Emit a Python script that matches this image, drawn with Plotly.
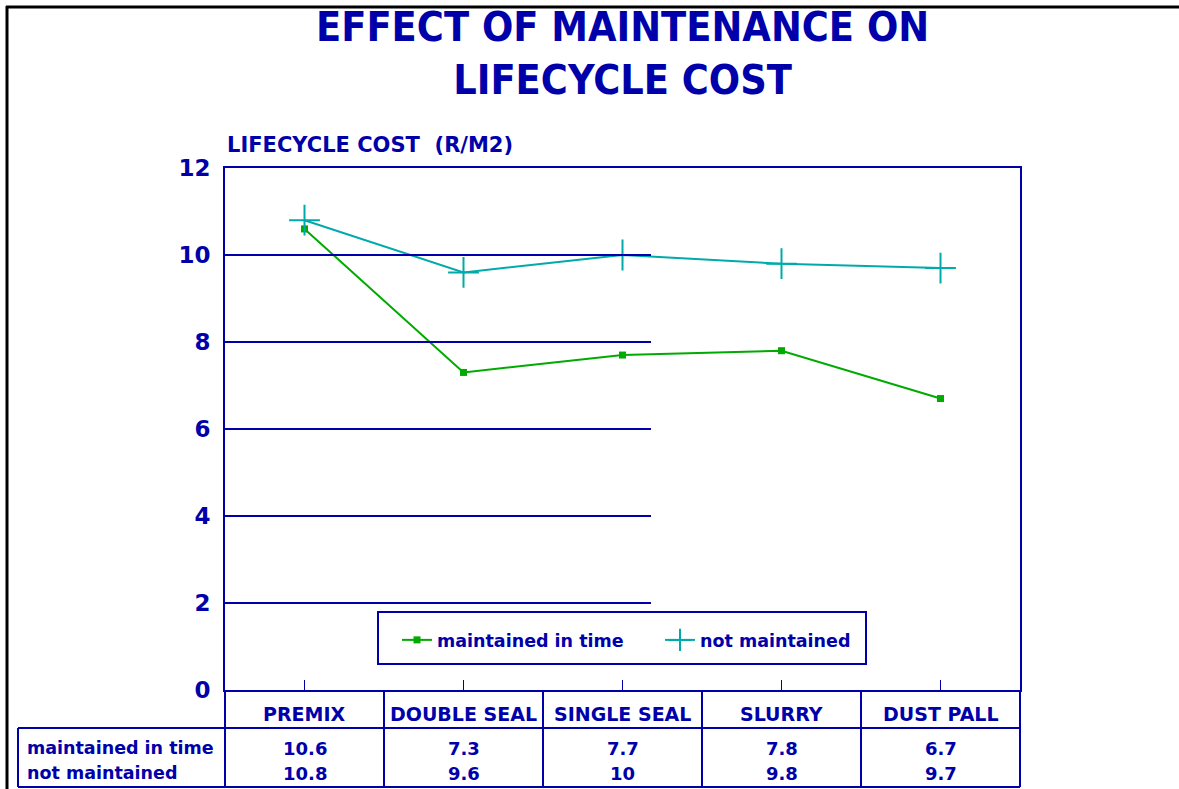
import plotly.graph_objects as go

# ---------------- data ----------------
categories = ["PREMIX", "DOUBLE SEAL", "SINGLE SEAL", "SLURRY", "DUST PALL"]
maintained = [10.6, 7.3, 7.7, 7.8, 6.7]
not_maintained = [10.8, 9.6, 10.0, 9.8, 9.7]
series_names = ["maintained in time", "not maintained"]
y_ticks = [0, 2, 4, 6, 8, 10, 12]
grid_values = [2, 4, 6, 8, 10]
title_text = "EFFECT OF MAINTENANCE ON<br>LIFECYCLE COST"
y_title = "LIFECYCLE COST&nbsp; (R/M2)"

# ---------------- styling / layout ----------------
W, H = 1179, 789
L, R, T, B = 225, 1020, 168, 690          # plot area in pixels
BLUE = "#0000AA"
GREEN = "#00AA00"
TEAL = "#00AAAA"
FONT = "DejaVu Sans"
TITLE_FONT = "DejaVu Sans Condensed, Liberation Sans Narrow, DejaVu Sans"


def px(xp):
    return (xp - L) / (R - L)


def py(yp):
    return (B - yp) / (B - T)


n = len(categories)
xs = list(range(n))

fig = go.Figure()
fig.add_trace(go.Scatter(
    x=xs, y=maintained, name=series_names[0], mode="lines+markers",
    line=dict(color=GREEN, width=2),
    marker=dict(symbol="square", size=7, color=GREEN),
))
fig.add_trace(go.Scatter(
    x=xs, y=not_maintained, name=series_names[1], mode="lines+markers",
    line=dict(color=TEAL, width=2),
    marker=dict(symbol="cross-thin", size=22, color=TEAL,
                line=dict(color=TEAL, width=2)),
))

shapes = []
# partial horizontal grid lines
grid_end = 651
for g in grid_values:
    shapes.append(dict(type="line", xref="paper", yref="y", x0=0, x1=px(grid_end),
                       y0=g, y1=g, line=dict(color=BLUE, width=2), layer="above"))

# table lines
row_top, row_mid, row_bot = B, 728, 787
tab_left = 18
for i in range(n + 1):
    shapes.append(dict(type="line", xref="paper", yref="paper",
                       x0=i / n, x1=i / n, y0=py(row_top), y1=py(row_bot),
                       line=dict(color=BLUE, width=2)))
for yy in (row_mid, row_bot):
    shapes.append(dict(type="line", xref="paper", yref="paper",
                       x0=px(tab_left), x1=1, y0=py(yy), y1=py(yy),
                       line=dict(color=BLUE, width=2)))
shapes.append(dict(type="line", xref="paper", yref="paper",
                   x0=px(tab_left), x1=px(tab_left), y0=py(row_mid), y1=py(row_bot),
                   line=dict(color=BLUE, width=2)))

# legend box
shapes.append(dict(type="rect", xref="paper", yref="paper",
                   x0=px(378), x1=px(866), y0=py(664), y1=py(612),
                   line=dict(color=BLUE, width=2), fillcolor="rgba(0,0,0,0)"))

# outer black frame (left and top)
shapes.append(dict(type="line", xref="paper", yref="paper",
                   x0=px(7), x1=px(7), y0=py(6), y1=py(W),
                   line=dict(color="black", width=3)))
shapes.append(dict(type="line", xref="paper", yref="paper",
                   x0=px(6), x1=px(W), y0=py(7), y1=py(7),
                   line=dict(color="black", width=3)))

annotations = []
# title (two lines)
annotations.append(dict(text=title_text, xref="paper", yref="paper",
                        x=0.5, y=py(54), xanchor="center", yanchor="middle",
                        showarrow=False, align="center",
                        font=dict(family=TITLE_FONT, size=41, color=BLUE, weight="bold")))
# y-axis title
annotations.append(dict(text=y_title, xref="paper", yref="paper",
                        x=0, y=py(145), xanchor="left", yanchor="middle",
                        showarrow=False,
                        font=dict(family=FONT, size=21, color=BLUE, weight="bold")))
# table header and values
for i, cat in enumerate(categories):
    xc = (i + 0.5) / n
    annotations.append(dict(text=cat, xref="paper", yref="paper", x=xc, y=py(714),
                            xanchor="center", yanchor="middle", showarrow=False,
                            font=dict(family=FONT, size=19, color=BLUE, weight="bold")))
    for vals, yc in ((maintained, 748), (not_maintained, 773)):
        annotations.append(dict(text=f"{vals[i]:g}", xref="paper", yref="paper",
                                x=xc, y=py(yc), xanchor="center", yanchor="middle",
                                showarrow=False,
                                font=dict(family=FONT, size=18, color=BLUE, weight="bold")))
for name, yc in zip(series_names, (748, 773)):
    annotations.append(dict(text=name, xref="paper", yref="paper", x=px(25), y=py(yc),
                            xanchor="left", yanchor="middle", showarrow=False,
                            font=dict(family=FONT, size=17.5, color=BLUE, weight="bold")))

fig.update_layout(
    width=W, height=H,
    margin=dict(l=L, r=W - R, t=T, b=H - B, pad=0),
    paper_bgcolor="white", plot_bgcolor="white",
    showlegend=True,
    legend=dict(orientation="h", x=px(397), xanchor="left", y=py(640), yanchor="middle",
                entrywidth=218, entrywidthmode="pixels",
                bgcolor="rgba(0,0,0,0)", borderwidth=0,
                font=dict(family=FONT, size=17.5, color=BLUE, weight="bold")),
    xaxis=dict(range=[-0.5, n - 0.5], tickvals=xs, showticklabels=False,
               ticks="inside", ticklen=10, tickwidth=1, tickcolor=BLUE,
               showgrid=False, zeroline=False,
               showline=True, linecolor=BLUE, linewidth=2, mirror=True),
    yaxis=dict(range=[0, 12], tickvals=y_ticks, ticks="", showgrid=False, zeroline=False,
               showline=True, linecolor=BLUE, linewidth=2, mirror=True,
               ticklabelstandoff=8,
               tickfont=dict(family=FONT, size=23, color=BLUE, weight="bold")),
    shapes=shapes,
    annotations=annotations,
)

fig.write_html("out.html", config={"displayModeBar": False},
               post_script="document.body.style.margin='0px';")
